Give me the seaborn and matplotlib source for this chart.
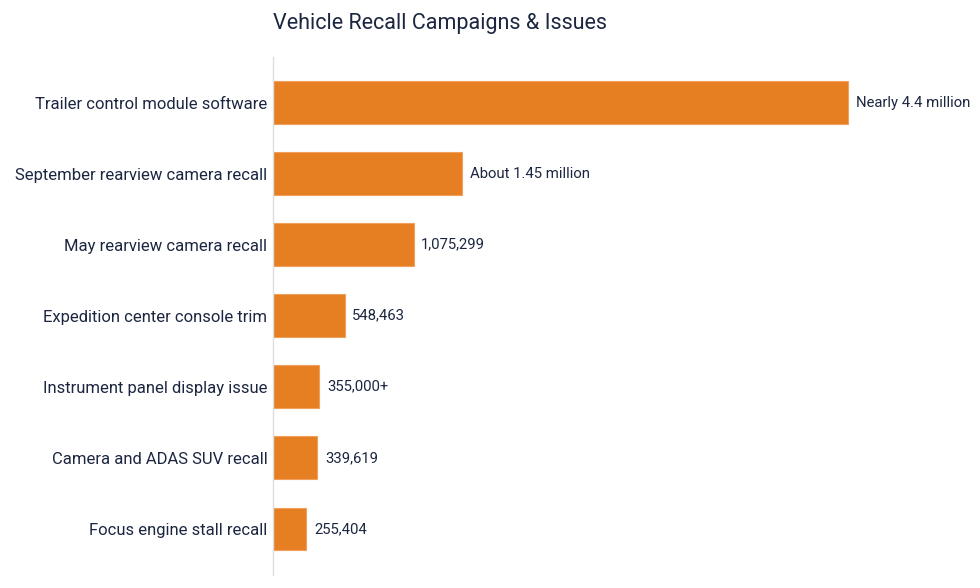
import matplotlib
matplotlib.use("Agg")
import matplotlib.pyplot as plt
import seaborn as sns
import pandas as pd

# Data
campaigns = [
    "Trailer control module software",
    "September rearview camera recall",
    "May rearview camera recall",
    "Expedition center console trim",
    "Instrument panel display issue",
    "Camera and ADAS SUV recall",
    "Focus engine stall recall",
]
vehicles = [4400000, 1450000, 1075299, 548463, 355000, 339619, 255404]
value_labels = [
    "Nearly 4.4 million",
    "About 1.45 million",
    "1,075,299",
    "548,463",
    "355,000+",
    "339,619",
    "255,404",
]

df = pd.DataFrame({"campaign": campaigns, "vehicles": vehicles})

sns.set_theme(style="white")
plt.rcParams["font.family"] = ["Roboto", "DejaVu Sans"]
text_color = "#1c2640"

fig = plt.figure(figsize=(9.8, 5.88), dpi=100)
ax = fig.add_axes([0.2786, 0.022, 0.716, 0.881])

sns.barplot(data=df, x="vehicles", y="campaign", color="#e67e22",
            width=0.6, edgecolor="#f0a05a", linewidth=0.8, saturation=1, ax=ax)

ax.set_xlim(0, 5370000)
ax.set_ylim(6.65, -0.64)

for i, (v, lab) in enumerate(zip(vehicles, value_labels)):
    ax.annotate(lab, xy=(v, i), xytext=(5.5, 0), textcoords="offset points",
                va="center", ha="left", fontsize=10.7, color=text_color)

ax.set_xlabel("")
ax.set_ylabel("")
ax.set_xticks([])
ax.tick_params(axis="y", length=0, pad=4, labelsize=12, labelcolor=text_color)
for side in ["top", "right", "bottom"]:
    ax.spines[side].set_visible(False)
ax.spines["left"].set_color("#dddddd")
ax.spines["left"].set_linewidth(1)

fig.text(0.2786, 0.96, "Vehicle Recall Campaigns & Issues", fontsize=15.5,
         color=text_color, ha="left", va="center")

fig.savefig("out.png", dpi=100, facecolor="white")
